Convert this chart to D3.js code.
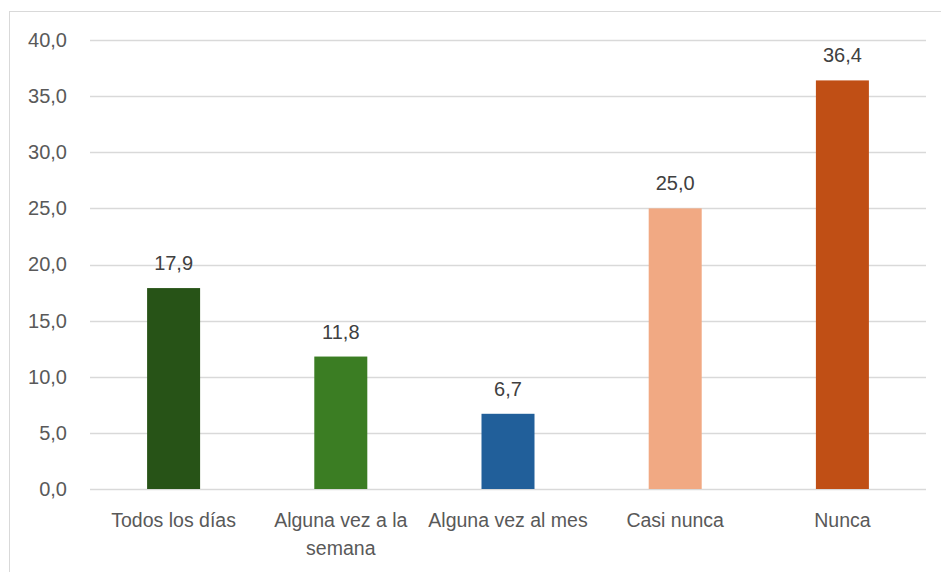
<!DOCTYPE html>
<html>
<head>
<meta charset="utf-8">
<script src="https://cdn.jsdelivr.net/npm/d3@7"></script>
<style>
  body { margin: 0; background: #fff; }
  text { font-family: "Liberation Sans", Arial, sans-serif; }
</style>
</head>
<body>
<svg id="chart" width="941" height="572"></svg>
<script>
const categories = ['Todos los días', 'Alguna vez a la semana', 'Alguna vez al mes', 'Casi nunca', 'Nunca'];
const values = [17.9, 11.8, 6.7, 25.0, 36.4];
const barColors = ['#275317', '#3b7d23', '#215f9a', '#f1a983', '#c04f15'];
const yTicks = [0, 5, 10, 15, 20, 25, 30, 35, 40];
// line breaks as in the picture
const labelLines = [['Todos los días'], ['Alguna vez a la', 'semana'], ['Alguna vez al mes'], ['Casi nunca'], ['Nunca']];

const MARGIN = { top: 40, right: 15, bottom: 83, left: 90 };
const width = 941, height = 572;
const fmt = (v) => v.toFixed(1).replace('.', ',');

const svg = d3.select('#chart');

// outer chart frame (runs past bottom/right edge of the shot)
svg.append('rect')
  .attr('x', 9.5).attr('y', 11.5)
  .attr('width', 960).attr('height', 600)
  .attr('fill', 'none').attr('stroke', '#d9d9d9');

const plotW = 926 - MARGIN.left;
const plotH = 489 - MARGIN.top;

const x = d3.scaleBand().domain(categories).range([0, plotW]).paddingInner(0.683).paddingOuter(0.3415);
const y = d3.scaleLinear().domain([0, 40]).range([plotH, 0]);

const g = svg.append('g').attr('transform', `translate(${MARGIN.left},${MARGIN.top})`);

g.append('g')
  .selectAll('line')
  .data(yTicks)
  .enter()
  .append('line')
  .attr('x1', 0).attr('x2', plotW)
  .attr('y1', (d) => Math.round(y(d)) + 0.5).attr('y2', (d) => Math.round(y(d)) + 0.5)
  .attr('stroke', '#d9d9d9').attr('stroke-width', 1.3);

const yAxis = g.append('g')
  .call(d3.axisLeft(y).tickValues(yTicks).tickFormat(fmt).tickSize(0).tickPadding(23));
yAxis.select('.domain').remove();
yAxis.selectAll('text').attr('fill', '#595959').attr('font-size', 20);

g.selectAll('rect.bar')
  .data(values)
  .enter()
  .append('rect')
  .attr('class', 'bar')
  .attr('x', (d, i) => x(categories[i]))
  .attr('y', (d) => y(d))
  .attr('width', x.bandwidth())
  .attr('height', (d) => plotH - y(d))
  .attr('fill', (d, i) => barColors[i]);

g.selectAll('text.val')
  .data(values)
  .enter()
  .append('text')
  .attr('class', 'val')
  .attr('x', (d, i) => x(categories[i]) + x.bandwidth() / 2)
  .attr('y', (d) => y(d) - 18)
  .attr('text-anchor', 'middle')
  .attr('fill', '#404040')
  .attr('font-size', 20)
  .text((d) => fmt(d));

const xl = g.selectAll('text.cat')
  .data(labelLines)
  .enter()
  .append('text')
  .attr('class', 'cat')
  .attr('x', (d, i) => x(categories[i]) + x.bandwidth() / 2)
  .attr('y', plotH + 38)
  .attr('text-anchor', 'middle')
  .attr('fill', '#595959')
  .attr('font-size', 19.5);

xl.selectAll('tspan')
  .data((d, i) => d.map((t) => ({ t, i })))
  .enter()
  .append('tspan')
  .attr('x', (d) => x(categories[d.i]) + x.bandwidth() / 2)
  .attr('dy', (d, j) => (j === 0 ? 0 : 28))
  .text((d) => d.t);
</script>
</body>
</html>
